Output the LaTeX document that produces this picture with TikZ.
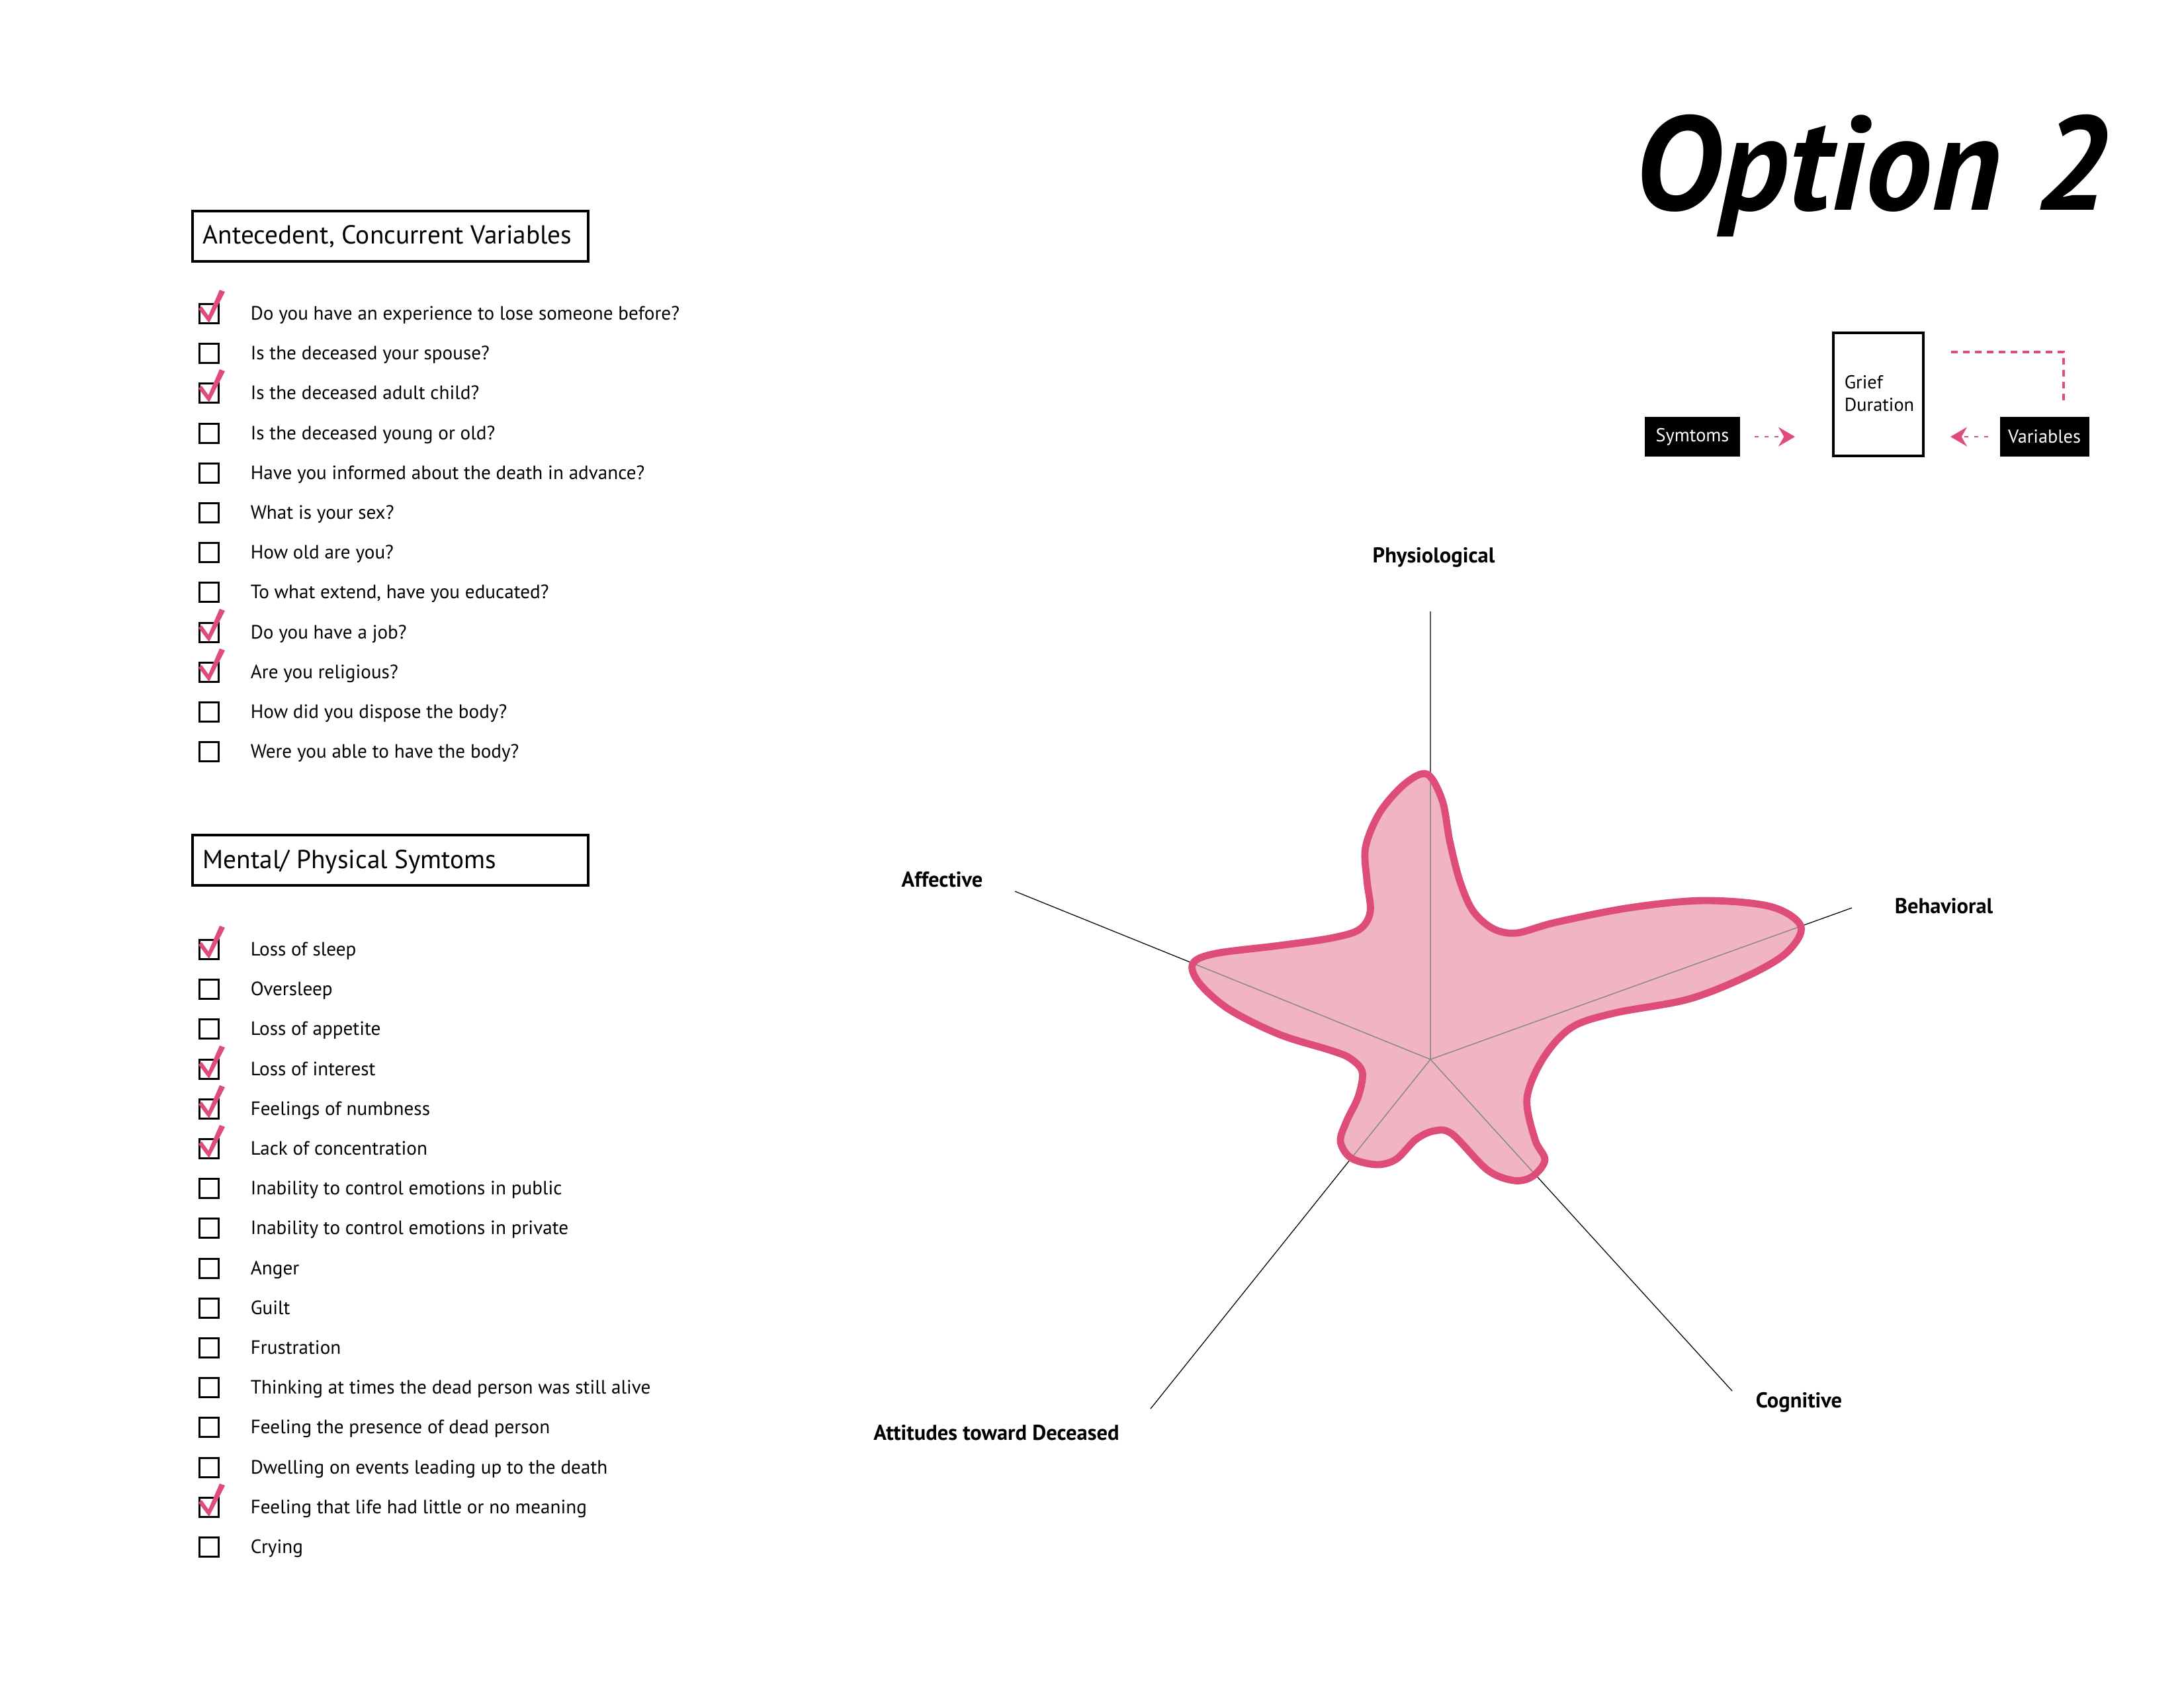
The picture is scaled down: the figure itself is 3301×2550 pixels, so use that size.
\documentclass[tikz,border=0pt]{standalone}
\usepackage{fontspec}
\setmainfont{PT Sans}
\usetikzlibrary{arrows.meta,calc}
\definecolor{pinkline}{RGB}{222,77,122}
\definecolor{pinkfill}{RGB}{241,180,196}
\definecolor{axisgray}{RGB}{135,135,135}
\newcommand\qitem[4]{%
  \node[cbox] (#1b) at (316,#2) {};
  \node[itemtxt] (#1t) at (378,#2+9) {#3};
  \ifnum#4=1
    \fill[pinkline, shift={(#1b.center)}] (-16,-7) -- (-11,-11) -- (-1,3) -- (16,-36) -- (24,-33) -- (0,14) -- cycle;
  \fi
}
\begin{document}
\begin{tikzpicture}[x=0.24pt,y=-0.24pt,
  cbox/.style={draw, line width=0.9pt, minimum size=7pt, inner sep=0pt},
  itemtxt/.style={anchor=base west, inner sep=0pt, font=\fontsize{7}{8}\selectfont},
  headbox/.style={draw, line width=0.95pt, minimum width=143.5pt, minimum height=18.3pt, inner sep=0pt},
  headtxt/.style={anchor=base west, inner sep=0pt, font=\fontsize{9.45}{11}\selectfont},
  axislbl/.style={inner sep=0pt, font=\fontsize{7.8}{9}\selectfont\bfseries},
  blackbox/.style={fill=black, text=white, minimum width=34.6pt, minimum height=14.4pt, inner sep=0pt, font=\fontsize{6.8}{8}\selectfont},
  dotarrow/.style={pinkline, line width=0.7pt, dash pattern=on 1.4pt off 2.2pt, -{Stealth[length=6pt,width=7pt,inset=2pt]}},
  dashline/.style={pinkline, line width=0.75pt, dash pattern=on 2.4pt off 1.9pt},
  thinaxis/.style={black, line width=0.3pt}]
\useasboundingbox (0,0) rectangle (3301,2550);
\fill[white] (0,0) rectangle (3301,2550);

% Title
\node[anchor=base west, inner sep=0pt, font=\fontsize{48.5}{52}\selectfont\bfseries\itshape] (title) at (2470,317) {Option 2};

% Section 1
\node[headbox, anchor=north west] (h1) at (289,317) {};
\node[headtxt] (h1t) at (306,368) {Antecedent, Concurrent Variables};
\qitem{a1}{474}{Do you have an experience to lose someone before?}{1}
\qitem{a2}{534}{Is the deceased your spouse?}{0}
\qitem{a3}{594}{Is the deceased adult child?}{1}
\qitem{a4}{655}{Is the deceased young or old?}{0}
\qitem{a5}{715}{Have you informed about the death in advance?}{0}
\qitem{a6}{775}{What is your sex?}{0}
\qitem{a7}{835}{How old are you?}{0}
\qitem{a8}{895}{To what extend, have you educated?}{0}
\qitem{a9}{956}{Do you have a job?}{1}
\qitem{a10}{1016}{Are you religious?}{1}
\qitem{a11}{1076}{How did you dispose the body?}{0}
\qitem{a12}{1136}{Were you able to have the body?}{0}

% Section 2
\node[headbox, anchor=north west] (h2) at (289,1260) {};
\node[headtxt] (h2t) at (306,1312) {Mental/ Physical Symtoms};
\qitem{b1}{1435}{Loss of sleep}{1}
\qitem{b2}{1495}{Oversleep}{0}
\qitem{b3}{1555}{Loss of appetite}{0}
\qitem{b4}{1616}{Loss of interest}{1}
\qitem{b5}{1676}{Feelings of numbness}{1}
\qitem{b6}{1736}{Lack of concentration}{1}
\qitem{b7}{1796}{Inability to control emotions in public}{0}
\qitem{b8}{1856}{Inability to control emotions in private}{0}
\qitem{b9}{1917}{Anger}{0}
\qitem{b10}{1977}{Guilt}{0}
\qitem{b11}{2037}{Frustration}{0}
\qitem{b12}{2097}{Thinking at times the dead person was still alive}{0}
\qitem{b13}{2157}{Feeling the presence of dead person}{0}
\qitem{b14}{2218}{Dwelling on events leading up to the death}{0}
\qitem{b15}{2278}{Feeling that life had little or no meaning}{1}
\qitem{b16}{2338}{Crying}{0}

% Legend
\node[draw, line width=1pt, minimum width=32.6pt, minimum height=44.6pt, inner sep=0pt, anchor=north west] (grief) at (2769,501) {};
\node[anchor=base west, inner sep=0pt, font=\fontsize{6.8}{8}\selectfont] (griefa) at (2787,587) {Grief};
\node[anchor=base west, inner sep=0pt, font=\fontsize{6.8}{8}\selectfont] (griefb) at (2787,621) {Duration};
\node[blackbox] (sym) at (2558,660) {Symtoms};
\node[blackbox, minimum width=32.4pt] (var) at (3090,660) {Variables};
\coordinate (symS) at (2652,660);
\coordinate (symE) at (2713,660);
\coordinate (varS) at (3005,660);
\coordinate (varE) at (2948,660);
\draw[dotarrow] (symS) -- (symE);
\draw[dotarrow] (varS) -- (varE);
\coordinate (dA) at (2949,532);
\coordinate (dB) at (3119,532);
\coordinate (dC) at (3119,605);
\draw[dashline] (dA) -- (dB) -- (dC);

% Radar axes
\coordinate (C) at (2162,1601);
\coordinate (ePhy) at (2162,924);
\coordinate (eBeh) at (2799,1372);
\coordinate (eAff) at (1534,1347);
\coordinate (eCog) at (2618,2102);
\coordinate (eAtt) at (1739,2129);
\draw[thinaxis] (C) -- (ePhy) (C) -- (eBeh) (C) -- (eAff) (C) -- (eCog) (C) -- (eAtt);

% Star shape
\path[save path=\starpath] plot[smooth cycle, tension=0.55] coordinates {
 (2157,1170) (2180,1210) (2191,1270) (2206,1330) (2226,1376) (2256,1403) (2292,1410)
 (2351,1394) (2462,1372) (2574,1361) (2676,1370) (2722,1400)
 (2700,1440) (2641,1475) (2552,1510) (2440,1531) (2375,1553) (2332,1600) (2308,1660)
 (2320,1722) (2335,1753) (2316,1778) (2288,1784) (2248,1768) (2195,1714) (2168,1709)
 (2140,1722) (2110,1752) (2080,1760) (2042,1750) (2026,1725) (2035,1695) (2053,1657)
 (2059,1620) (2040,1599) (2010,1587) (1933,1563) (1857,1525) (1812,1485) (1803,1456)
 (1837,1441) (1933,1429) (2010,1418) (2054,1405) (2071,1378) (2066,1330) (2064,1280)
 (2086,1227) (2124,1184)};
\fill[pinkfill, use path=\starpath];
\begin{scope}
\clip[use path=\starpath];
\draw[axisgray, line width=0.35pt] (C) -- (ePhy) (C) -- (eBeh) (C) -- (eAff) (C) -- (eCog) (C) -- (eAtt);
\end{scope}
\draw[pinkline, line width=2.6pt, use path=\starpath];

% Axis labels
\node[axislbl] (lPhy) at (2167,842) {Physiological};
\node[axislbl] (lBeh) at (2938,1369) {Behavioral};
\node[axislbl] (lAff) at (1424,1329) {Affective};
\node[axislbl] (lCog) at (2719,2119) {Cognitive};
\node[axislbl] (lAtt) at (1506,2165) {Attitudes toward Deceased};
\end{tikzpicture}
\end{document}
